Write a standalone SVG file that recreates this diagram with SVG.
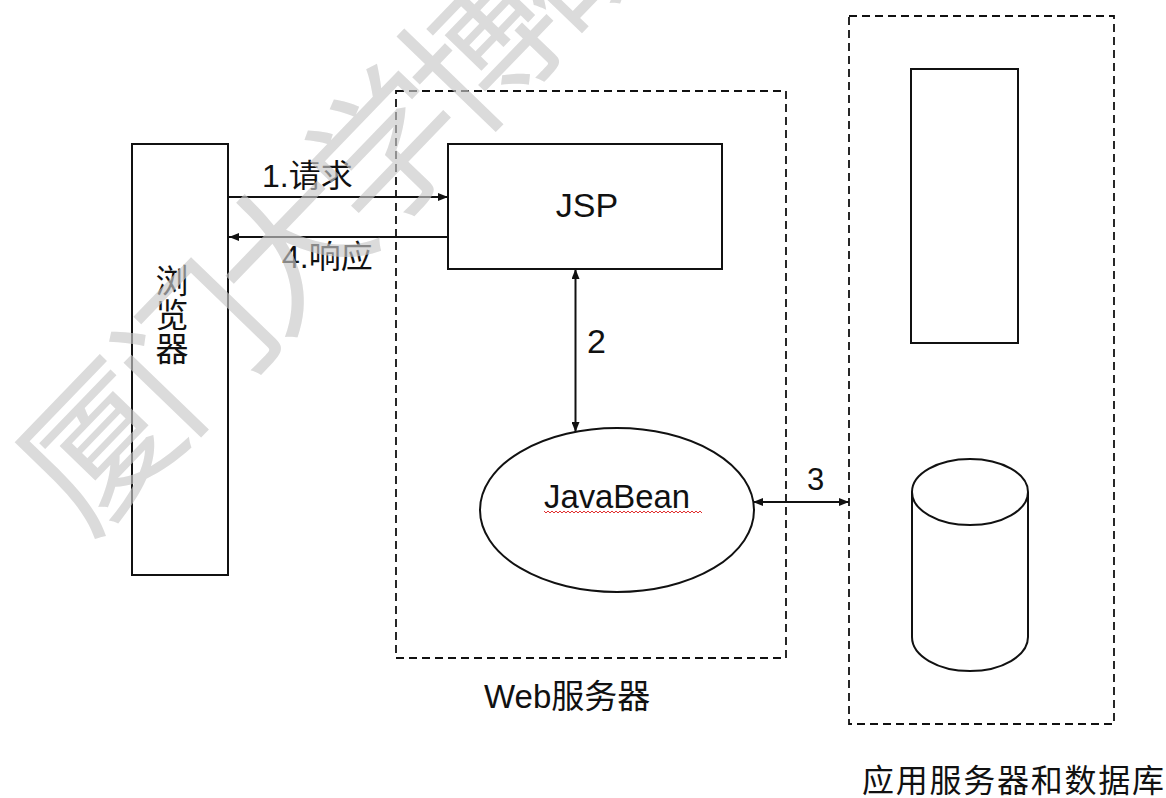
<svg xmlns="http://www.w3.org/2000/svg" width="1166" height="798" viewBox="0 0 1166 798">
<style>
.box{fill:none;stroke:#111;stroke-width:2}
.dash{fill:none;stroke:#111;stroke-width:1.8;stroke-dasharray:8 5}
.ln{fill:none;stroke:#111;stroke-width:2}
.t{font-family:"Liberation Sans","Noto Sans CJK SC",sans-serif;fill:#111}
.wm{font-family:"Noto Sans CJK SC",sans-serif;font-size:150px;fill:#c8c8c8;letter-spacing:-12px}
</style>
<defs>
<marker id="ah" viewBox="0 0 10 8" refX="10" refY="4" markerWidth="10" markerHeight="8" markerUnits="userSpaceOnUse" orient="auto-start-reverse">
<path d="M0,0 L10,4 L0,8 Z" fill="#111"/>
</marker>
</defs>
<rect width="1166" height="798" fill="#fff"/>

<g id="web-server">
<rect class="dash" x="396" y="91" width="390" height="567"/>
<text class="t" x="484" y="708" font-size="33">Web服务器</text>
</g>

<g id="app-db-server">
<rect class="dash" x="849" y="16" width="265" height="708"/>
<text class="t" x="862" y="792" font-size="32" textLength="302" lengthAdjust="spacing">应用服务器和数据库</text>
</g>

<g id="browser">
<rect class="box" x="132" y="144" width="96" height="431"/>
<text class="t" x="172" font-size="33" text-anchor="middle"><tspan x="172" y="293">浏</tspan><tspan x="172" y="327">览</tspan><tspan x="172" y="361">器</tspan></text>
</g>

<g id="jsp">
<rect class="box" x="448" y="144" width="274" height="125"/>
<text class="t" x="587" y="217" font-size="34" text-anchor="middle">JSP</text>
</g>

<g id="javabean">
<ellipse class="box" cx="617" cy="510" rx="137" ry="82"/>
<text class="t" x="544" y="508" font-size="33" textLength="146" lengthAdjust="spacingAndGlyphs">JavaBean</text>
<path d="M544,511 l2,2 l2,-2 l2,2 l2,-2 l2,2 l2,-2 l2,2 l2,-2 l2,2 l2,-2 l2,2 l2,-2 l2,2 l2,-2 l2,2 l2,-2 l2,2 l2,-2 l2,2 l2,-2 l2,2 l2,-2 l2,2 l2,-2 l2,2 l2,-2 l2,2 l2,-2 l2,2 l2,-2 l2,2 l2,-2 l2,2 l2,-2 l2,2 l2,-2 l2,2 l2,-2 l2,2 l2,-2 l2,2 l2,-2 l2,2 l2,-2 l2,2 l2,-2 l2,2 l2,-2 l2,2 l2,-2 l2,2 l2,-2 l2,2 l2,-2 l2,2 l2,-2 l2,2 l2,-2 l2,2 l2,-2 l2,2 l2,-2 l2,2 l2,-2 l2,2 l2,-2 l2,2 l2,-2 l2,2 l2,-2 l2,2 l2,-2 l2,2 l2,-2 l2,2 l2,-2 l2,2 l2,-2 l2,2" fill="none" stroke="#e03030" stroke-width="1"/>
</g>

<g id="app-server">
<rect class="box" x="911" y="69" width="107" height="274"/>
</g>

<g id="database">
<path class="box" d="M912,492 L912,637 A58,34 0 0 0 1028,637 L1028,492"/>
<ellipse class="box" cx="970" cy="492" rx="58" ry="33"/>
</g>

<g id="connectors">
<line class="ln" x1="228" y1="197" x2="448" y2="197" marker-end="url(#ah)"/>
<text class="t" x="262" y="187" font-size="32">1.请求</text>
<line class="ln" x1="448" y1="237" x2="229" y2="237" marker-end="url(#ah)"/>
<text class="t" x="282" y="268" font-size="32">4.响应</text>
<line class="ln" x1="575.5" y1="269" x2="575.5" y2="432" marker-start="url(#ah)" marker-end="url(#ah)"/>
<text class="t" x="587" y="353" font-size="34">2</text>
<line class="ln" x1="753" y1="502" x2="849" y2="502" marker-start="url(#ah)" marker-end="url(#ah)"/>
<text class="t" x="807" y="490" font-size="31">3</text>
</g>

<g id="watermark" opacity="0.65">
<text class="wm" transform="translate(98,445) rotate(-46)" x="-75" y="57">厦门大学博硕</text>
</g>
</svg>
